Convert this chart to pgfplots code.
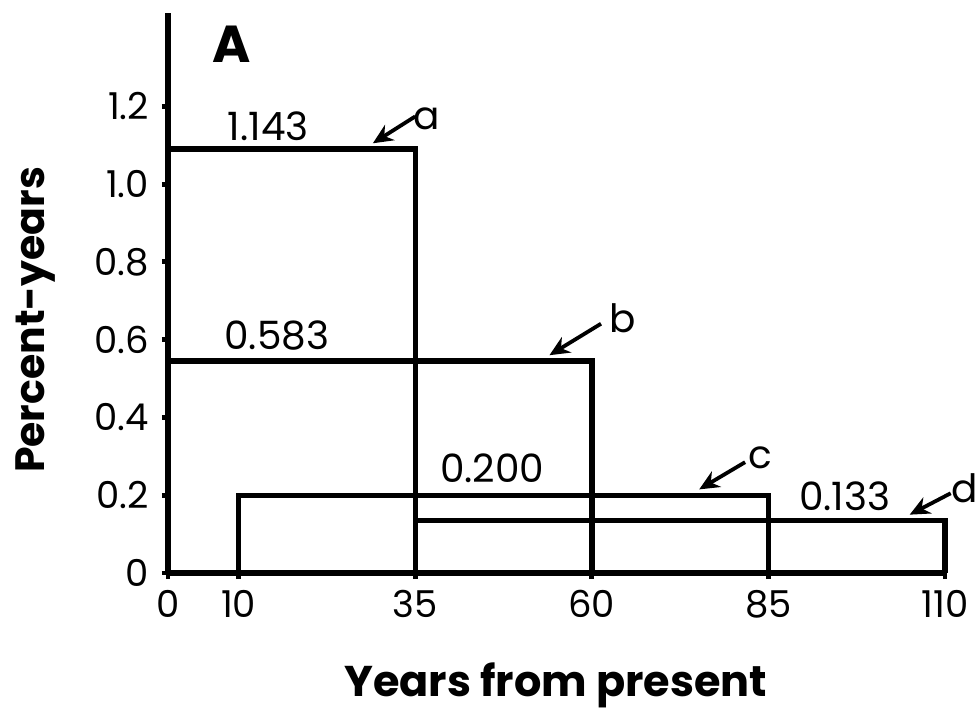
\documentclass[border=0pt]{standalone}
\usepackage{fontspec}
\setmainfont{Poppins}
\usepackage{pgfplots}
\pgfplotsset{compat=1.18}
\usetikzlibrary{arrows.meta}
\begin{document}
\begin{tikzpicture}
\begin{axis}[
  scale only axis,
  width=388.5pt, height=280pt,
  xmin=0, xmax=110, ymin=0, ymax=1.44,
  axis x line*=bottom, axis y line*=left,
  axis line style={-, line width=2.8pt},
  xtick={0,10,35,60,85,110},
  xticklabels={0,10,35,60,85,110},
  ytick={0,0.2,0.4,0.6,0.8,1.0,1.2},
  yticklabels={0,0.2,0.4,0.6,0.8,1.0,1.2},
  /pgf/number format/assume math mode=true,
  tick align=outside,
  major tick length=3pt,
  tick style={line width=2.4pt, black},
  ticklabel style={font=\fontsize{18.5}{20}\selectfont},
  xticklabel style={yshift=-2pt},
  yticklabel style={xshift=-3pt},
  xlabel={\bfseries Years from present},
  ylabel={\bfseries Percent-years},
  xlabel style={font=\fontsize{21.5}{24}\selectfont, at={(axis description cs:0.499,-0.20)}, anchor=center},
  ylabel style={font=\fontsize{20.5}{24}\selectfont, at={(axis description cs:-0.171,0.452)}, anchor=center},
  clip=false,
]
\addplot[black, line width=2.7pt, no marks] coordinates {(0,0) (0,1.09) (35,1.09) (35,0)};
\addplot[black, line width=2.7pt, no marks] coordinates {(0,0) (0,0.545) (60,0.545) (60,0)};
\addplot[black, line width=2.7pt, no marks] coordinates {(10,0) (10,0.20) (85,0.20) (85,0)};
\addplot[black, line width=2.7pt, no marks] coordinates {(35,0) (35,0.135) (110,0.135) (110,0)};

\node[font=\fontsize{26}{28}\selectfont\bfseries] at (axis cs:9.0,1.36) {A};
\node[font=\fontsize{19.5}{20}\selectfont] at (axis cs:14.2,1.149) {1.143};
\node[font=\fontsize{19.5}{20}\selectfont] at (axis cs:15.4,0.61) {0.583};
\node[font=\fontsize{19.5}{20}\selectfont] at (axis cs:45.9,0.27) {0.200};
\node[font=\fontsize{19.5}{20}\selectfont] at (axis cs:95.8,0.197) {0.133};
\node[font=\fontsize{19.5}{20}\selectfont] at (axis cs:36.6,1.167) {a};
\node[font=\fontsize{19.5}{20}\selectfont] at (axis cs:64.4,0.656) {b};
\node[font=\fontsize{19.5}{20}\selectfont] at (axis cs:83.9,0.297) {c};
\node[font=\fontsize{19.5}{20}\selectfont] at (axis cs:112.8,0.218) {d};
\draw[line width=1.9pt, -{Stealth[length=10pt,width=9pt]}] (axis cs:35.0,1.174) -- (axis cs:29.0,1.105);
\draw[line width=1.9pt, -{Stealth[length=10pt,width=9pt]}] (axis cs:61.3,0.641) -- (axis cs:54.0,0.56);
\draw[line width=1.9pt, -{Stealth[length=10pt,width=9pt]}] (axis cs:81.7,0.285) -- (axis cs:75.2,0.215);
\draw[line width=1.9pt, -{Stealth[length=10pt,width=9pt]}] (axis cs:110.8,0.205) -- (axis cs:105.0,0.15);
\coordinate (sw) at (current axis.south west);
\end{axis}
\pgfresetboundingbox
\useasboundingbox (sw) ++(-84pt,-70pt) rectangle ++(489pt,356.5pt);
\end{tikzpicture}
\end{document}
